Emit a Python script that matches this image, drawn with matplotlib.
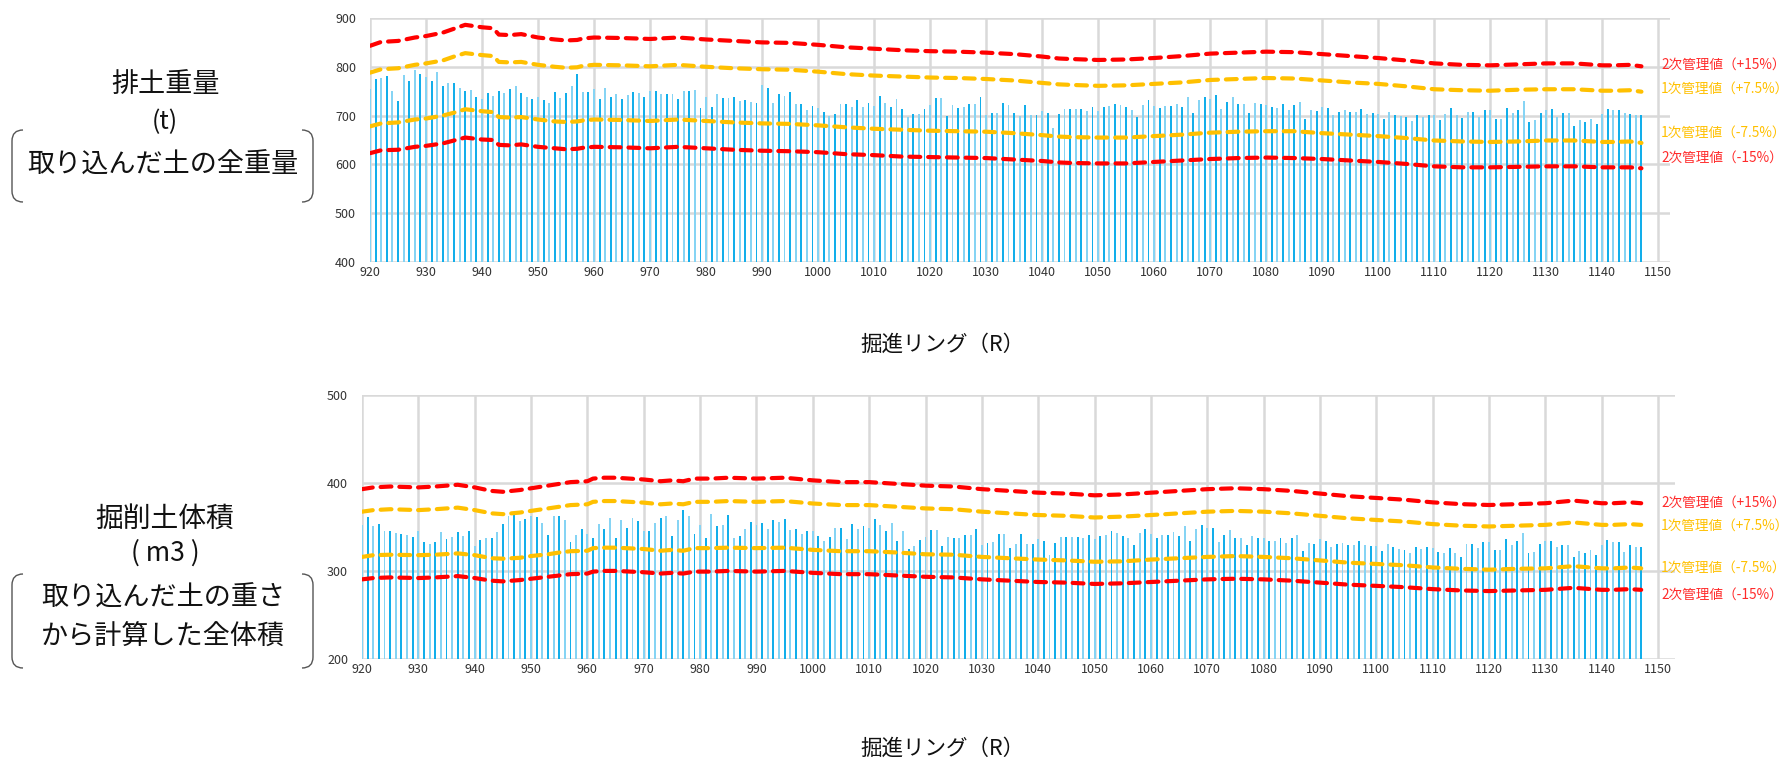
import matplotlib
matplotlib.use("Agg")
import matplotlib.pyplot as plt
from matplotlib.path import Path
from matplotlib.patches import PathPatch
import numpy as np

plt.rcParams['font.family'] = ['Noto Sans CJK JP', 'DejaVu Sans']

# ---------------- data ----------------
rings = list(range(920, 1148))

weight = [
    754, 775, 777, 782, 750, 729, 784, 771, 794, 785,
    780, 771, 790, 761, 767, 767, 756, 750, 752, 739,
    733, 746, 741, 750, 746, 754, 760, 746, 739, 733,
    739, 731, 726, 748, 736, 747, 761, 785, 748, 748,
    754, 735, 756, 738, 744, 733, 742, 748, 746, 738,
    751, 750, 745, 744, 744, 733, 750, 750, 752, 716,
    739, 717, 744, 736, 737, 738, 729, 732, 728, 725,
    763, 757, 726, 745, 740, 749, 723, 723, 711, 719,
    716, 707, 699, 704, 724, 724, 717, 732, 717, 725,
    719, 740, 726, 717, 734, 713, 697, 704, 704, 713,
    722, 736, 736, 699, 721, 716, 717, 724, 723, 738,
    702, 706, 705, 726, 721, 705, 699, 722, 701, 701,
    709, 705, 675, 703, 714, 714, 714, 714, 709, 718,
    709, 717, 720, 724, 722, 717, 711, 697, 722, 732,
    720, 715, 720, 719, 724, 718, 739, 705, 732, 739,
    734, 743, 714, 728, 739, 724, 724, 705, 726, 723,
    722, 717, 716, 724, 711, 722, 728, 694, 712, 710,
    718, 716, 701, 707, 711, 707, 707, 714, 704, 705,
    703, 694, 708, 701, 699, 697, 688, 701, 698, 701,
    701, 692, 704, 715, 702, 695, 707, 708, 697, 711,
    711, 693, 693, 716, 705, 711, 730, 686, 690, 706,
    712, 713, 698, 705, 705, 678, 691, 686, 693, 683,
    703, 714, 712, 712, 705, 704, 701, 701,
]

volume = [
    352, 361, 351, 353, 345, 345, 343, 342, 341, 339,
    345, 333, 331, 333, 344, 336, 339, 344, 340, 345,
    328, 335, 338, 337, 344, 353, 362, 364, 357, 359,
    362, 361, 355, 341, 363, 363, 358, 333, 341, 348,
    342, 338, 353, 348, 360, 337, 358, 349, 360, 357,
    346, 346, 355, 360, 362, 340, 358, 369, 363, 342,
    352, 337, 365, 351, 352, 364, 338, 340, 348, 356,
    352, 354, 348, 358, 356, 359, 347, 348, 342, 346,
    345, 340, 334, 339, 349, 349, 336, 353, 348, 351,
    349, 359, 352, 346, 355, 334, 345, 325, 328, 335,
    339, 347, 347, 328, 339, 338, 337, 341, 341, 348,
    329, 332, 333, 342, 342, 326, 331, 342, 331, 331,
    336, 334, 318, 332, 339, 339, 339, 339, 337, 341,
    336, 340, 341, 345, 343, 340, 337, 330, 343, 348,
    342, 338, 341, 341, 344, 340, 351, 334, 348, 352,
    349, 349, 333, 341, 347, 338, 338, 329, 340, 337,
    337, 334, 334, 338, 332, 337, 341, 323, 332, 331,
    336, 334, 327, 331, 332, 330, 330, 334, 329, 328,
    328, 323, 331, 327, 325, 324, 320, 327, 325, 327,
    326, 322, 321, 326, 320, 316, 331, 331, 326, 333,
    333, 324, 324, 336, 330, 334, 343, 320, 322, 331,
    334, 334, 327, 330, 330, 316, 323, 321, 324, 318,
    329, 335, 333, 333, 322, 330, 327, 327,
]

# control lines, top chart (排土重量)
w_ring = [920, 922, 925, 928, 930, 933, 935, 937, 940, 942, 943, 945, 947, 950,
          953, 955, 957, 958, 960, 965, 970, 975, 980, 985, 990, 995, 1000, 1005,
          1010, 1015, 1020, 1025, 1030, 1035, 1040, 1043, 1045, 1050, 1055, 1060,
          1065, 1070, 1075, 1080, 1085, 1090, 1095, 1100, 1105, 1110, 1115, 1120,
          1125, 1130, 1135, 1140, 1142, 1145, 1147]
w_p15 = [843, 851, 853, 860, 863, 870, 878, 886, 881, 879, 866, 865, 867, 860,
         856, 854, 855, 858, 860, 859, 857, 860, 856, 853, 850, 849, 845, 840,
         837, 834, 832, 831, 829, 826, 821, 817, 816, 814, 815, 818,
         822, 827, 829, 831, 830, 826, 822, 818, 813, 807, 804, 803,
         805, 807, 807, 803, 803, 804, 801]
w_p75 = [788, 795, 797, 804, 807, 813, 821, 828, 824, 822, 810, 809, 810, 804,
         800, 798, 799, 802, 804, 803, 801, 804, 800, 797, 795, 794, 790, 785,
         782, 780, 778, 777, 775, 772, 767, 764, 763, 761, 762, 765,
         768, 773, 775, 777, 776, 772, 768, 765, 760, 754, 752, 751,
         753, 754, 754, 751, 751, 752, 749]
w_m75 = [678, 684, 686, 692, 694, 700, 706, 713, 709, 707, 697, 696, 697, 692,
         688, 687, 688, 690, 692, 691, 689, 692, 689, 686, 684, 683, 680, 676,
         673, 671, 669, 668, 667, 664, 660, 657, 656, 655, 655, 658,
         661, 665, 667, 668, 668, 664, 661, 658, 654, 649, 647, 646,
         647, 649, 649, 646, 646, 647, 644]
w_m15 = [623, 629, 630, 636, 638, 643, 649, 655, 651, 650, 640, 639, 641, 636,
         633, 631, 632, 634, 636, 635, 633, 636, 633, 630, 628, 627, 625, 621,
         619, 616, 615, 614, 613, 610, 607, 604, 603, 602, 602, 605,
         608, 611, 613, 614, 613, 611, 608, 605, 601, 596, 594, 594,
         595, 596, 596, 594, 594, 594, 592]

# control lines, bottom chart (掘削土体積)
v_ring = [920, 922, 925, 930, 933, 937, 940, 943, 945, 948, 950, 953, 955, 957,
          960, 961, 963, 965, 970, 973, 975, 977, 979, 982, 985, 990, 995, 1000,
          1005, 1010, 1015, 1020, 1025, 1030, 1035, 1040, 1045, 1050, 1055, 1060,
          1065, 1070, 1075, 1080, 1085, 1090, 1095, 1100, 1105, 1110, 1115, 1120,
          1125, 1130, 1135, 1140, 1142, 1145, 1147]
v_p15 = [393, 395, 396, 395, 396, 398, 395, 391, 390, 392, 394, 397, 399, 401,
         402, 405, 406, 406, 404, 402, 403, 402, 405, 405, 406, 405, 406, 403,
         401, 401, 399, 397, 396, 393, 391, 389, 388, 386, 387, 389,
         391, 393, 394, 393, 391, 388, 385, 383, 381, 378, 376, 375,
         376, 377, 380, 377, 377, 378, 377]
v_p75 = [367.4, 369.2, 370.2, 369.2, 370.2, 372.0, 369.2, 365.5, 364.6, 366.4,
         368.3, 371.1, 373.0, 374.9, 375.8, 378.6, 379.5, 379.5, 377.7, 375.8,
         376.7, 375.8, 378.6, 378.6, 379.5, 378.6, 379.5, 376.7, 374.9, 374.9,
         373.0, 371.1, 370.2, 367.4, 365.5, 363.6, 362.7, 360.8, 361.8, 363.6,
         365.5, 367.4, 368.3, 367.4, 365.5, 362.7, 359.9, 358.0, 356.2, 353.3,
         351.5, 350.6, 351.5, 352.4, 355.2, 352.4, 352.4, 353.3, 352.4]
v_m75 = [316, 318, 318.5, 318, 318.5, 320, 318, 314.5, 314, 315,
         317, 319, 321, 322.5, 323, 326, 326.5, 326.5, 325, 323,
         324, 323, 326, 326, 326.5, 326, 326.5, 324, 322.5, 322.5,
         321, 319, 318.5, 316, 314.5, 313, 312, 310.5, 311, 313,
         314.5, 316, 317, 316, 314.5, 312, 309.5, 308, 306.5, 304,
         302.5, 301.5, 302.5, 303, 305.5, 303, 303, 304, 303]
v_m15 = [290.5, 292, 292.7, 292, 292.7, 294.2, 292, 289, 288.2, 289.7,
         291.2, 293.4, 294.9, 296.4, 297.1, 299.3, 300.1, 300.1, 298.6, 297.1,
         297.9, 297.1, 299.3, 299.3, 300.1, 299.3, 300.1, 297.9, 296.4, 296.4,
         294.9, 293.4, 292.7, 290.5, 289, 287.5, 286.8, 285.3, 286, 287.5,
         289, 290.5, 291.2, 290.5, 289, 286.8, 284.5, 283.1, 281.6, 279.4,
         277.9, 277.2, 277.9, 278.6, 280.9, 278.6, 278.6, 279.4, 278.6]

line_labels = ["2次管理値（+15%）", "1次管理値（+7.5%）", "1次管理値（-7.5%）", "2次管理値（-15%）"]
xticks = list(range(920, 1151, 10))
xlabel = "掘進リング（R）"

# ---------------- figure ----------------
W, H = 1791, 760
fig = plt.figure(figsize=(W / 100, H / 100), dpi=100)

RED = '#ff0000'
ORG = '#ffc000'
GRID = '#d9d9d9'
BAR_DARK = '#12aeea'
BAR_LIGHT = '#86d4f4'


def px_axes(l, t, r, b):
    return fig.add_axes([l / W, 1 - b / H, (r - l) / W, (b - t) / H])


def style_axes(ax, ylo, yhi, xr):
    ax.set_xlim(920, xr)
    ax.set_ylim(ylo, yhi)
    ax.set_yticks(range(ylo, yhi + 1, 100))
    ax.set_xticks(xticks)
    ax.grid(True, color=GRID, linewidth=1.8, zorder=0)
    ax.set_axisbelow(True)
    for s in ax.spines.values():
        s.set_visible(False)
    ax.tick_params(length=0, labelsize=9, colors='#333333')
    ax.tick_params(axis='y', pad=10)
    ax.tick_params(axis='x', pad=3)


def draw(ax, values, lx, lines):
    cols = [BAR_LIGHT if r % 2 == 0 else BAR_DARK for r in rings]
    ax.bar(rings, values, width=0.34, color=cols, zorder=2, linewidth=0)
    for ys, c in zip(lines, [RED, ORG, ORG, RED]):
        ax.plot(lx, ys, color=c, linewidth=3.0, linestyle=(0, (2.6, 1.9)),
                dash_capstyle='round', solid_joinstyle='round', zorder=3)


ax1 = px_axes(370, 18, 1670, 262)
style_axes(ax1, 400, 900, 1152.1)
draw(ax1, weight, w_ring, [w_p15, w_p75, w_m75, w_m15])

ax2 = px_axes(362, 395, 1675, 659)
style_axes(ax2, 200, 500, 1153.0)
draw(ax2, volume, v_ring, [v_p15, v_p75, v_m75, v_m15])

# overlay in pixel coordinates for annotations
ov = fig.add_axes([0, 0, 1, 1])
ov.set_xlim(0, W)
ov.set_ylim(H, 0)
ov.axis('off')
ov.patch.set_alpha(0)

# right-side line labels
LBL_RED = '#ff2a2a'
for y, txt, c in zip([65, 89, 133, 158], line_labels, [LBL_RED, ORG, ORG, LBL_RED]):
    ov.text(1661, y, txt, color=c, fontsize=9.8, va='center', ha='left')
for y, txt, c in zip([503, 526, 568, 595], line_labels, [LBL_RED, ORG, ORG, LBL_RED]):
    ov.text(1661, y, txt, color=c, fontsize=9.8, va='center', ha='left')

# x-axis labels
ov.text(942, 345, xlabel, fontsize=15.5, ha='center', va='center', color='#111111')
ov.text(942, 749, xlabel, fontsize=15.5, ha='center', va='center', color='#111111')

# left titles
ov.text(165, 84, "排土重量", fontsize=19.5, ha='center', va='center', color='#111111')
ov.text(165, 122, "(t)", fontsize=18, ha='center', va='center', color='#111111')
ov.text(163, 165, "取り込んだ土の全重量", fontsize=19.5, ha='center', va='center', color='#111111')

ov.text(165, 519, "掘削土体積", fontsize=20, ha='center', va='center', color='#111111')
ov.text(165, 553, "( m3 )", fontsize=19, ha='center', va='center', color='#111111')
ov.text(163, 598, "取り込んだ土の重さ", fontsize=19.5, ha='center', va='center', color='#111111')
ov.text(163, 637, "から計算した全体積", fontsize=19.5, ha='center', va='center', color='#111111')


def bracket(x0, x1, top, bot, r=11):
    codes = [Path.MOVETO, Path.CURVE3, Path.CURVE3, Path.LINETO, Path.CURVE3, Path.CURVE3]
    left = Path([(x0 + r, top), (x0, top), (x0, top + r), (x0, bot - r), (x0, bot), (x0 + r, bot)], codes)
    right = Path([(x1 - r, top), (x1, top), (x1, top + r), (x1, bot - r), (x1, bot), (x1 - r, bot)], codes)
    for p in (left, right):
        ov.add_patch(PathPatch(p, facecolor='none', edgecolor='#555555', linewidth=1.0))


bracket(12, 313, 130, 202)
bracket(12, 313, 574, 668)

fig.savefig("out.png", dpi=100)
